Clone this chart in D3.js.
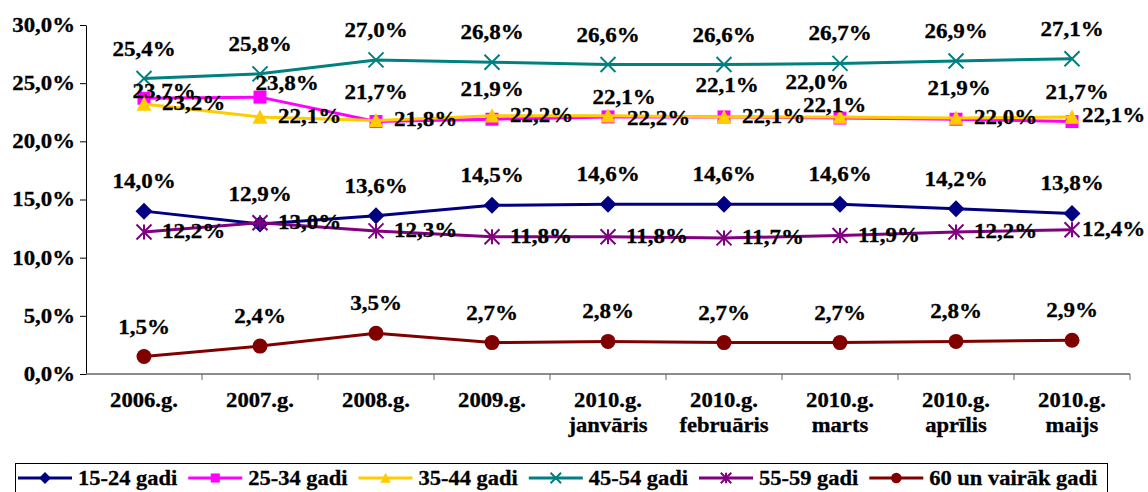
<!DOCTYPE html>
<html>
<head>
<meta charset="utf-8">
<script src="https://cdn.jsdelivr.net/npm/d3@7"></script>
<style>
  html, body { margin: 0; padding: 0; background: #fff; }
</style>
</head>
<body>
<div id="chart"></div>
<script>
// categories (second line after \n)
const categories = ['2006.g.', '2007.g.', '2008.g.', '2009.g.', '2010.g.\njanvāris',
    '2010.g.\nfebruāris', '2010.g.\nmarts', '2010.g.\naprīlis', '2010.g.\nmaijs'];

const seriesNames = ['15-24 gadi', '25-34 gadi', '35-44 gadi', '45-54 gadi', '55-59 gadi', '60 un vairāk gadi'];

const age1524 = [14.0, 12.9, 13.6, 14.5, 14.6, 14.6, 14.6, 14.2, 13.8];
const age2534 = [23.7, 23.8, 21.7, 21.9, 22.1, 22.1, 22.0, 21.9, 21.7];
const age3544 = [23.2, 22.1, 21.8, 22.2, 22.2, 22.1, 22.1, 22.0, 22.1];
const age4554 = [25.4, 25.8, 27.0, 26.8, 26.6, 26.6, 26.7, 26.9, 27.1];
const age5559 = [12.2, 13.0, 12.3, 11.8, 11.8, 11.7, 11.9, 12.2, 12.4];
const age60 = [1.5, 2.4, 3.5, 2.7, 2.8, 2.7, 2.7, 2.8, 2.9];

const yTicks = [0, 5, 10, 15, 20, 25, 30];

const width = 1148,
    height = 492,
    plotLeft = 86, plotRight = 1130, plotTop = 25, plotBottom = 374,
    font = "'Liberation Serif', 'Times New Roman', serif";

const seriesValues = [age1524, age2534, age3544, age4554, age5559, age60];
const colors = ['#000080', '#FF00FF', '#FFCC00', '#008080', '#800080', '#800000'];
const markers = ['diamond', 'square', 'triangle', 'times', 'asterisk', 'circle'];
const labelSide = ['top', 'top', 'right', 'top', 'right', 'top'];

// hand-moved data labels in the original: [dx, dy] from the point
const labelNudge = {
    1: { 0: [20, 0], 1: [27, -7], 4: [16, -13], 5: [3, -25], 6: [-23, -29], 7: [3, -24], 8: [5, -23] },
    2: { 4: [19, 9], 6: [-37, -5], 8: [10, 5] },
    4: { 8: [10, 6] }
};

const svg = d3.select('#chart').append('svg')
    .attr('width', width)
    .attr('height', height)
    .attr('font-family', font)
    .attr('font-weight', 'bold');

const x = d3.scaleBand().domain(categories).range([plotLeft, plotRight]).padding(0);
const y = d3.scaleLinear().domain([0, 30]).range([plotBottom, plotTop]);
const cx = (c) => x(c) + x.bandwidth() / 2;

const lv = d3.formatLocale({ decimal: ',', thousands: ' ', grouping: [3], currency: ['', ''] });
const pct = (v) => lv.format('.1f')(v) + '%';

// the original fonts are drawn a bit wider and heavier than normal
function widen(sel, k) {
    sel.each(function () {
        const w = this.getComputedTextLength();
        d3.select(this)
            .attr('textLength', w * k)
            .attr('lengthAdjust', 'spacingAndGlyphs')
            .attr('stroke', '#000')
            .attr('stroke-width', 0.3);
    });
}

function markerPath(type, s) {
    const p = d3.path();
    if (type === 'diamond') {
        const h = 8.5 * s;
        p.moveTo(0, -h); p.lineTo(h, 0); p.lineTo(0, h); p.lineTo(-h, 0); p.closePath();
    } else if (type === 'square') {
        const h = 6.5 * s;
        p.rect(-h, -h, 2 * h, 2 * h);
    } else if (type === 'triangle') {
        const h = 7.5 * s;
        p.moveTo(0, -h); p.lineTo(h, h * 0.9); p.lineTo(-h, h * 0.9); p.closePath();
    } else if (type === 'times') {
        const h = 7.5 * s;
        p.moveTo(-h, -h); p.lineTo(h, h); p.moveTo(h, -h); p.lineTo(-h, h);
    } else if (type === 'asterisk') {
        const h = 7.5 * s;
        p.moveTo(-h, -h); p.lineTo(h, h); p.moveTo(h, -h); p.lineTo(-h, h);
        p.moveTo(0, -h); p.lineTo(0, h);
    } else {
        p.arc(0, 0, 7.5 * s, 0, 2 * Math.PI);
    }
    return p.toString();
}

function drawMarker(g, i, s) {
    const stroked = markers[i] === 'times' || markers[i] === 'asterisk';
    g.append('path')
        .attr('d', markerPath(markers[i], s))
        .attr('fill', stroked ? 'none' : colors[i])
        .attr('stroke', stroked ? colors[i] : 'none')
        .attr('stroke-width', 2);
}

// y axis
const yAxis = svg.append('g')
    .attr('transform', `translate(${plotLeft},0)`)
    .call(d3.axisLeft(y).tickValues(yTicks).tickSize(6).tickSizeOuter(0).tickFormat(pct));
yAxis.attr('font-family', font).attr('font-weight', 'bold');
yAxis.select('.domain').attr('stroke', '#000');
yAxis.selectAll('.tick line').attr('stroke', '#000');
yAxis.selectAll('.tick text')
    .attr('x', -11)
    .attr('dy', '0.32em')
    .attr('fill', '#000')
    .style('font-size', '20px');
widen(yAxis.selectAll('.tick text'), 1.14);

// x axis
const xAxis = svg.append('g').attr('transform', `translate(0,${plotBottom})`);
xAxis.append('line')
    .attr('x1', plotLeft).attr('x2', plotRight)
    .attr('stroke', '#666').attr('stroke-width', 1.3);
xAxis.selectAll('.xtick')
    .data(categories.slice(1).map((c) => x(c)).concat([plotRight]))
    .enter().append('line')
    .attr('x1', (d) => d).attr('x2', (d) => d)
    .attr('y1', 0).attr('y2', 6)
    .attr('stroke', '#666');

categories.forEach((c) => {
    c.split('\n').forEach((line, k) => {
        xAxis.append('text')
            .attr('class', 'xlab')
            .attr('x', cx(c))
            .attr('y', 33 + k * 25)
            .attr('text-anchor', 'middle')
            .style('font-size', '20px')
            .text(line);
    });
});
widen(xAxis.selectAll('.xlab'), 1.13);

// series
const line = d3.line()
    .x((d, i) => cx(categories[i]))
    .y((d) => y(d));

seriesValues.forEach((vals, i) => {
    const g = svg.append('g').attr('class', 'series');
    g.append('path')
        .datum(vals)
        .attr('d', line)
        .attr('fill', 'none')
        .attr('stroke', colors[i])
        .attr('stroke-width', 3);
    vals.forEach((v, j) => {
        const m = g.append('g').attr('transform', `translate(${cx(categories[j])},${y(v)})`);
        drawMarker(m, i, 1);
    });
});

// data labels, on top of all series
const labels = svg.append('g');
seriesValues.forEach((vals, i) => {
    vals.forEach((v, j) => {
        const side = labelSide[i];
        let off = side === 'top' ? [0, -23] : [18, 6];
        if (labelNudge[i] && labelNudge[i][j]) off = labelNudge[i][j];
        labels.append('text')
            .attr('class', 'dlab')
            .attr('x', cx(categories[j]) + off[0])
            .attr('y', y(v) + off[1])
            .attr('text-anchor', side === 'top' ? 'middle' : 'start')
            .style('font-size', '20px')
            .text(pct(v));
    });
});
widen(labels.selectAll('.dlab'), 1.15);

// legend
const legend = svg.append('g');
legend.append('rect')
    .attr('x', 15.5).attr('y', 463.5)
    .attr('width', 1092).attr('height', 40)
    .attr('fill', '#fff').attr('stroke', '#000');

let lx = 18;
const ly = 478;
seriesNames.forEach((name, i) => {
    const item = legend.append('g');
    item.append('line')
        .attr('x1', lx).attr('x2', lx + 54)
        .attr('y1', ly).attr('y2', ly)
        .attr('stroke', colors[i]).attr('stroke-width', 3);
    const m = item.append('g').attr('transform', `translate(${lx + 27},${ly})`);
    drawMarker(m, i, 0.7);
    const t = item.append('text')
        .attr('x', lx + 60)
        .attr('y', ly + 7)
        .style('font-size', '21px')
        .text(name);
    const w = t.node().getComputedTextLength();
    widen(t, 1.07);
    lx += 60 + w * 1.07 + 11;
});
</script>
</body>
</html>
